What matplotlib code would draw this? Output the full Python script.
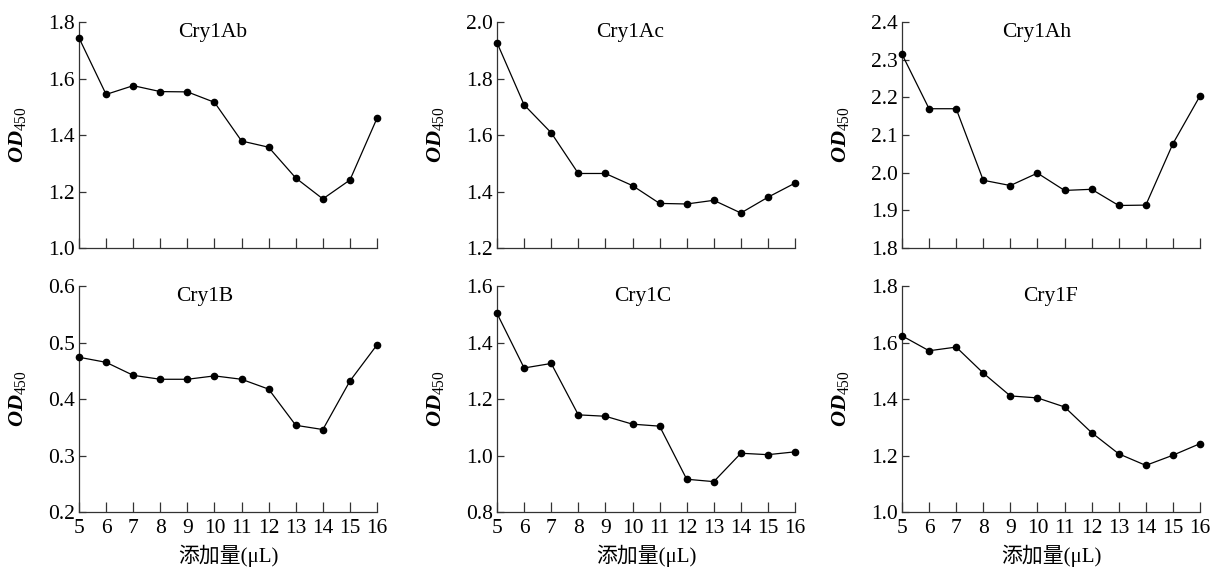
import matplotlib
matplotlib.use("Agg")
import matplotlib.pyplot as plt
import numpy as np

plt.rcParams['font.family'] = ['Liberation Serif', 'Noto Sans CJK SC']
plt.rcParams['mathtext.fontset'] = 'custom'
plt.rcParams['mathtext.it'] = 'Liberation Serif:italic:bold'
plt.rcParams['mathtext.rm'] = 'Liberation Serif'
plt.rcParams['mathtext.bf'] = 'Liberation Serif:bold'

x_vals = [5, 6, 7, 8, 9, 10, 11, 12, 13, 14, 15, 16]
titles = ["Cry1Ab", "Cry1Ac", "Cry1Ah", "Cry1B", "Cry1C", "Cry1F"]
cry1ab = [1.744, 1.544, 1.575, 1.554, 1.553, 1.516, 1.379, 1.357, 1.248, 1.174, 1.241, 1.460]
cry1ac = [1.927, 1.707, 1.608, 1.464, 1.464, 1.421, 1.358, 1.356, 1.369, 1.324, 1.380, 1.430]
cry1ah = [2.315, 2.170, 2.170, 1.980, 1.966, 1.999, 1.953, 1.956, 1.913, 1.914, 2.077, 2.204]
cry1b = [0.474, 0.465, 0.442, 0.435, 0.435, 0.441, 0.435, 0.4175, 0.3535, 0.346, 0.432, 0.496]
cry1c = [1.503, 1.310, 1.326, 1.144, 1.139, 1.111, 1.104, 0.916, 0.9075, 1.008, 1.003, 1.013]
cry1f = [1.624, 1.571, 1.584, 1.492, 1.411, 1.404, 1.372, 1.281, 1.206, 1.165, 1.201, 1.242]
series = [cry1ab, cry1ac, cry1ah, cry1b, cry1c, cry1f]
y_ticks = [
    [1.0, 1.2, 1.4, 1.6, 1.8],
    [1.2, 1.4, 1.6, 1.8, 2.0],
    [1.8, 1.9, 2.0, 2.1, 2.2, 2.3, 2.4],
    [0.2, 0.3, 0.4, 0.5, 0.6],
    [0.8, 1.0, 1.2, 1.4, 1.6],
    [1.0, 1.2, 1.4, 1.6, 1.8],
]
x_label = "添加量(μL)"
y_label = r"$OD_{450}$"

fig = plt.figure(figsize=(12.12, 5.69), dpi=100)
lefts = [0.0652, 0.4101, 0.7442]
bottoms = [0.5641, 0.1002]
w, h = 0.2459, 0.397
title_x = [0.45, 0.445, 0.453, 0.42, 0.49, 0.497]
fs = 15.5

for i in range(6):
    r, c = divmod(i, 3)
    ax = fig.add_axes([lefts[c], bottoms[r], w, h])
    ax.plot(x_vals, series[i], color='black', lw=0.9, marker='o', ms=4.5,
            clip_on=False, zorder=3)
    ax.set_xlim(5, 16)
    yt = y_ticks[i]
    ax.set_ylim(yt[0], yt[-1])
    ax.set_yticks(yt)
    ax.set_yticklabels(["%.1f" % v for v in yt])
    ax.set_xticks(x_vals)
    for s in ['top', 'right']:
        ax.spines[s].set_visible(False)
    for s in ['left', 'bottom']:
        ax.spines[s].set_linewidth(0.9)
        ax.spines[s].set_color('#333333')
    ax.tick_params(axis='both', direction='in', labelsize=fs, width=0.9,
                   color='#333333')
    ax.tick_params(axis='x', length=7, pad=5)
    ax.tick_params(axis='y', length=5, pad=3)
    if r == 0:
        ax.set_xticklabels([])
    else:
        ax.set_xticklabels([str(v) for v in x_vals])
        ax.set_xlabel(x_label, fontsize=15, labelpad=5)
    ax.set_ylabel(y_label, fontsize=16)
    ax.yaxis.set_label_coords(-0.17, 0.5)
    ax.text(title_x[i], 0.995, titles[i], transform=ax.transAxes,
            ha='center', va='top', fontsize=fs)

fig.savefig("out.png", dpi=100)
